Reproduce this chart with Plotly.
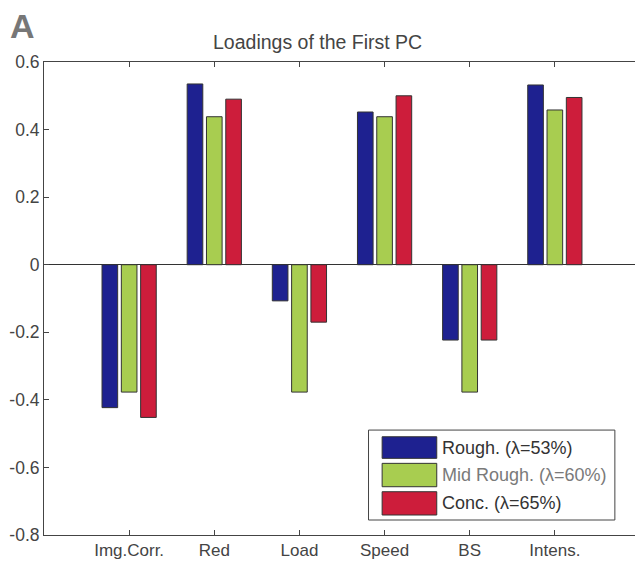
import plotly.graph_objects as go

categories = ["Img.Corr.", "Red", "Load", "Speed", "BS", "Intens."]
series_names = ["Rough. (\u03bb=53%)", "Mid Rough. (\u03bb=60%)", "Conc. (\u03bb=65%)"]
rough = [-0.423, 0.535, -0.107, 0.452, -0.223, 0.532]
mid_rough = [-0.377, 0.438, -0.377, 0.438, -0.377, 0.458]
conc = [-0.452, 0.490, -0.170, 0.500, -0.223, 0.495]
y_ticks = [0.6, 0.4, 0.2, 0, -0.2, -0.4, -0.6, -0.8]
y_tick_labels = ["0.6", "0.4", "0.2", "0", "-0.2", "-0.4", "-0.6", "-0.8"]

colors = ["#1e2190", "#a8cd50", "#cd1d3b"]
legend_text_colors = ["#333333", "#7a7a7a", "#333333"]
FONT = "Liberation Sans, Arial, sans-serif"

# page has an 8px body margin; figure coordinates = page coordinates - 8
OFF = 8
W, H = 643 - OFF, 564 - OFF
ml, mr, mt, mb = 41.3 - OFF, 1.7, 61.7 - OFF, 29
pw, ph = W - ml - mr, H - mt - mb

def px_x(x):
    return (x - OFF - ml) / pw

def px_y(y):
    return 1 - (y - OFF - mt) / ph

xpos = list(range(1, len(categories) + 1))
fig = go.Figure()
for name, vals, col in zip(series_names, [rough, mid_rough, conc], colors):
    fig.add_trace(go.Bar(
        x=xpos, y=vals, name=name, showlegend=False,
        marker=dict(color=col, line=dict(color="#333333", width=1)),
    ))

# custom legend (large swatches like the original)
L, R = 368, 616
shapes = [dict(type="rect", xref="paper", yref="paper",
               x0=px_x(L), x1=px_x(R), y0=px_y(520), y1=px_y(430),
               line=dict(color="#444444", width=1), fillcolor="white", layer="above")]
annotations = []
sw_rows = [(436.7, 458.3), (463.3, 486.7), (491.7, 515.0)]
for (t, b), name, col, tcol in zip(sw_rows, series_names, colors, legend_text_colors):
    shapes.append(dict(type="rect", xref="paper", yref="paper",
                       x0=px_x(381.7), x1=px_x(436.7), y0=px_y(b), y1=px_y(t),
                       line=dict(color="#333333", width=1), fillcolor=col, layer="above"))
    annotations.append(dict(xref="paper", yref="paper", x=px_x(440), y=px_y((t + b) / 2),
                            text=name, showarrow=False, xanchor="left", yanchor="middle",
                            font=dict(family=FONT, size=18, color=tcol)))

annotations.append(dict(xref="paper", yref="paper", x=px_x(317), y=px_y(42),
                        text="Loadings of the First PC", showarrow=False,
                        xanchor="center", yanchor="middle",
                        font=dict(family=FONT, size=19.5, color="#444444")))
annotations.append(dict(xref="paper", yref="paper", x=px_x(5), y=px_y(26),
                        text="<b>A</b>", showarrow=False,
                        xanchor="left", yanchor="middle",
                        font=dict(family=FONT, size=34, color="#777777")))

fig.update_layout(
    width=W, height=H,
    margin=dict(l=ml, r=mr, t=mt, b=mb),
    paper_bgcolor="white", plot_bgcolor="white",
    barmode="group", bargap=0.32, bargroupgap=0.19,
    font=dict(family=FONT, size=17, color="#444444"),
    shapes=shapes, annotations=annotations,
    xaxis=dict(range=[0, 7], tickvals=xpos, ticktext=categories,
               showline=True, linecolor="#444444", linewidth=1, mirror="ticks",
               ticks="inside", ticklen=5, tickcolor="#444444",
               showgrid=False, zeroline=False,
               tickfont=dict(family=FONT, size=17, color="#444444")),
    yaxis=dict(range=[-0.8, 0.6], tickvals=y_ticks, ticktext=y_tick_labels,
               showline=True, linecolor="#444444", linewidth=1, mirror="ticks",
               ticks="inside", ticklen=5, tickcolor="#444444",
               showgrid=False, zeroline=True, zerolinecolor="#333333", zerolinewidth=1,
               tickfont=dict(family=FONT, size=17.5, color="#444444")),
)

fig.write_html("out.html")
